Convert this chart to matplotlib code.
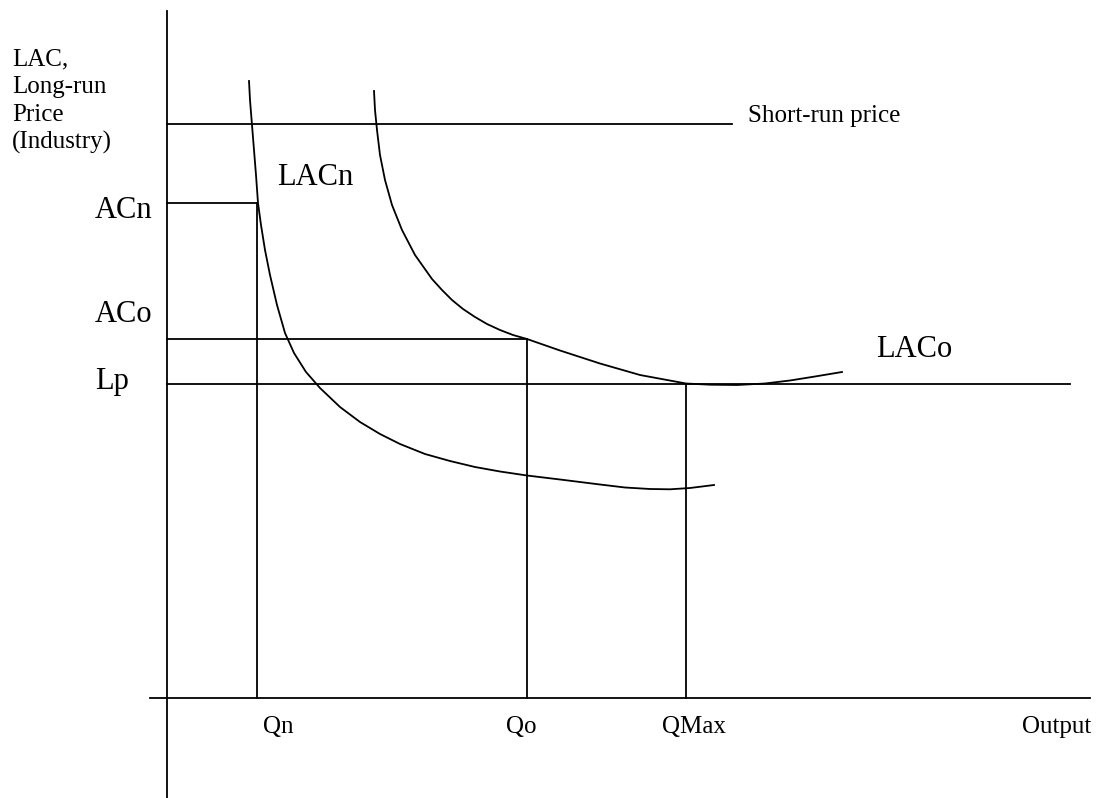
import matplotlib.pyplot as plt

plt.rcParams['font.family'] = ['Liberation Serif', 'DejaVu Serif']

# quantities on the output axis
q_labels = ['Qn', 'Qo', 'QMax']
q_values = [90, 360, 519]

# price / cost levels
p_labels = ['ACn', 'ACo', 'Lp']
p_values = [495, 359, 314]
short_run_price = 574

# long-run average cost curves
lacn_x = [82, 83, 85, 87, 89, 91, 94, 98, 103, 110, 118, 127, 139, 153, 173, 193, 213, 233,
          258, 283, 308, 333, 360, 393, 433, 458, 483, 503, 523, 547]
lacn_y = [617, 598, 573, 548, 523, 495, 473, 448, 423, 393, 365, 345, 326, 310, 291, 276, 264, 254,
          244, 237, 231, 226.5, 222.5, 218.5, 213.5, 210.5, 209, 208.7, 210, 213]

laco_x = [207, 208, 210, 213, 218, 225, 235, 248, 265, 275, 285, 296, 308, 320, 333, 346, 360,
          393, 433, 473, 519, 543, 570, 598, 623, 648, 675]
laco_y = [607, 588, 568, 543, 518, 493, 468, 443, 419, 408, 398, 389, 381, 374, 368, 363, 359,
          347.5, 334.5, 323, 314.5, 313.3, 313, 314.5, 317.5, 321.5, 326]

y_title = ['LAC,', 'Long-run', 'Price', '(Industry)']

fig = plt.figure(figsize=(10.97, 7.98), dpi=100)
ax = fig.add_axes([0, 0, 1, 1])
ax.set_xlim(-167, 930)
ax.set_ylim(-100, 698)
ax.axis('off')

lw = 1.3
small = 18
big = 22

# axes
ax.plot([0, 0], [-100, 687], color='black', lw=lw)
ax.plot([-17, 923], [0, 0], color='black', lw=lw)

# short-run price
ax.plot([0, 565], [short_run_price, short_run_price], color='black', lw=lw)
ax.text(581, 576, 'Short-run price', fontsize=small, va='baseline')

# horizontal levels and vertical drops
ax.plot([0, q_values[0]], [p_values[0], p_values[0]], color='black', lw=lw)
ax.plot([q_values[0], q_values[0]], [0, p_values[0]], color='black', lw=lw)
ax.plot([0, q_values[1]], [p_values[1], p_values[1]], color='black', lw=lw)
ax.plot([q_values[1], q_values[1]], [0, p_values[1]], color='black', lw=lw)
ax.plot([0, 903], [p_values[2], p_values[2]], color='black', lw=lw)
ax.plot([q_values[2], q_values[2]], [0, p_values[2]], color='black', lw=lw)

# curves
ax.plot(lacn_x, lacn_y, color='black', lw=lw, solid_joinstyle='round')
ax.plot(laco_x, laco_y, color='black', lw=lw, solid_joinstyle='round')
ax.text(110, 513, 'LACn', fontsize=big, va='baseline')
ax.text(709, 341, 'LACo', fontsize=big, va='baseline')

# price labels
p_label_y = [480, 376, 309]
for lab, y in zip(p_labels, p_label_y):
    ax.text(-72, y, lab, fontsize=big, va='baseline')

# quantity labels
q_label_x = [96, 339, 495]
for lab, x in zip(q_labels, q_label_x):
    ax.text(x, -35, lab, fontsize=small, va='baseline')
ax.text(855, -35, 'Output', fontsize=small, va='baseline')

# y-axis title, one line at a time
for i, line in enumerate(y_title):
    ax.text(-155, 633 - 28 * i, line, fontsize=small, va='baseline')

fig.savefig('out.png', dpi=100)
